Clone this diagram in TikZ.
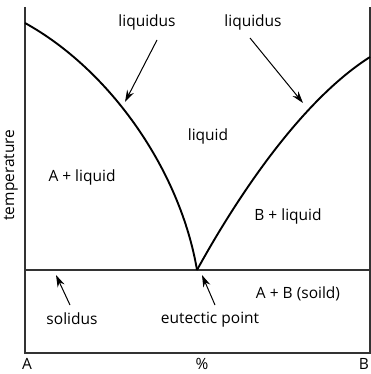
\documentclass[tikz,border=0pt]{standalone}
\usepackage{fontspec}
\setmainfont{Open Sans}
\usetikzlibrary{arrows.meta}

\begin{document}
\begin{tikzpicture}[x=1pt,y=-1pt,
    lbl/.style={font=\fontsize{15.5}{18}\selectfont, inner sep=0pt},
    frame/.style={line width=1.4pt, draw=black!80},
    curve/.style={line width=1.9pt},
    ptr/.style={line width=1pt, -{Stealth[length=12pt,width=7.5pt]}}]
    \useasboundingbox (0,0) rectangle (371,374);
    % box and solidus line
    \coordinate (top left) at (25,7);
    \coordinate (bot left) at (25,353);
    \coordinate (bot right) at (370,353);
    \coordinate (top right) at (370,7);
    \coordinate (sol left) at (25,270);
    \coordinate (sol right) at (370,270);
    \draw[frame] (top left) -- (bot left) -- (bot right) -- (top right);
    \draw[frame, line width=1.2pt] (sol left) -- (sol right);
    % liquidus curves
    \coordinate (meltA) at (25,23);
    \coordinate (meltB) at (370,57);
    \coordinate (eut) at (197,270);
    \draw[curve] (meltA) .. controls (110,70) and (180,170) .. (eut);
    \draw[curve] (eut) .. controls (230,210) and (296,104) .. (meltB);
    % labels
    \node[lbl] (liqL) at (147,22) {liquidus};
    \node[lbl] (liqR) at (253,22) {liquidus};
    \node[lbl] (liquid) at (208,136) {liquid};
    \node[lbl] (Aliq) at (82,177) {A + liquid};
    \node[lbl] (Bliq) at (288,216) {B + liquid};
    \node[lbl] (AB) at (298,294) {A + B (soild)};
    \node[lbl] (eutpt) at (210,320) {eutectic point};
    \node[lbl] (solidus) at (72,319) {solidus};
    \node[lbl] (labA) at (27,364) {A};
    \node[lbl] (pct) at (202,364) {\%};
    \node[lbl] (labB) at (364,364) {B};
    \node[lbl, rotate=90] (temp) at (11,175) {temperature};
    % pointers
    \coordinate (p1) at (157,40);  \coordinate (t1) at (125,102);
    \coordinate (p2) at (250,38);  \coordinate (t2) at (303,103);
    \coordinate (p3) at (70,305);  \coordinate (t3) at (56,275);
    \coordinate (p4) at (215,305); \coordinate (t4) at (202,275);
    \draw[ptr] (p1) -- (t1);
    \draw[ptr] (p2) -- (t2);
    \draw[ptr] (p3) -- (t3);
    \draw[ptr] (p4) -- (t4);
\end{tikzpicture}
\end{document}
